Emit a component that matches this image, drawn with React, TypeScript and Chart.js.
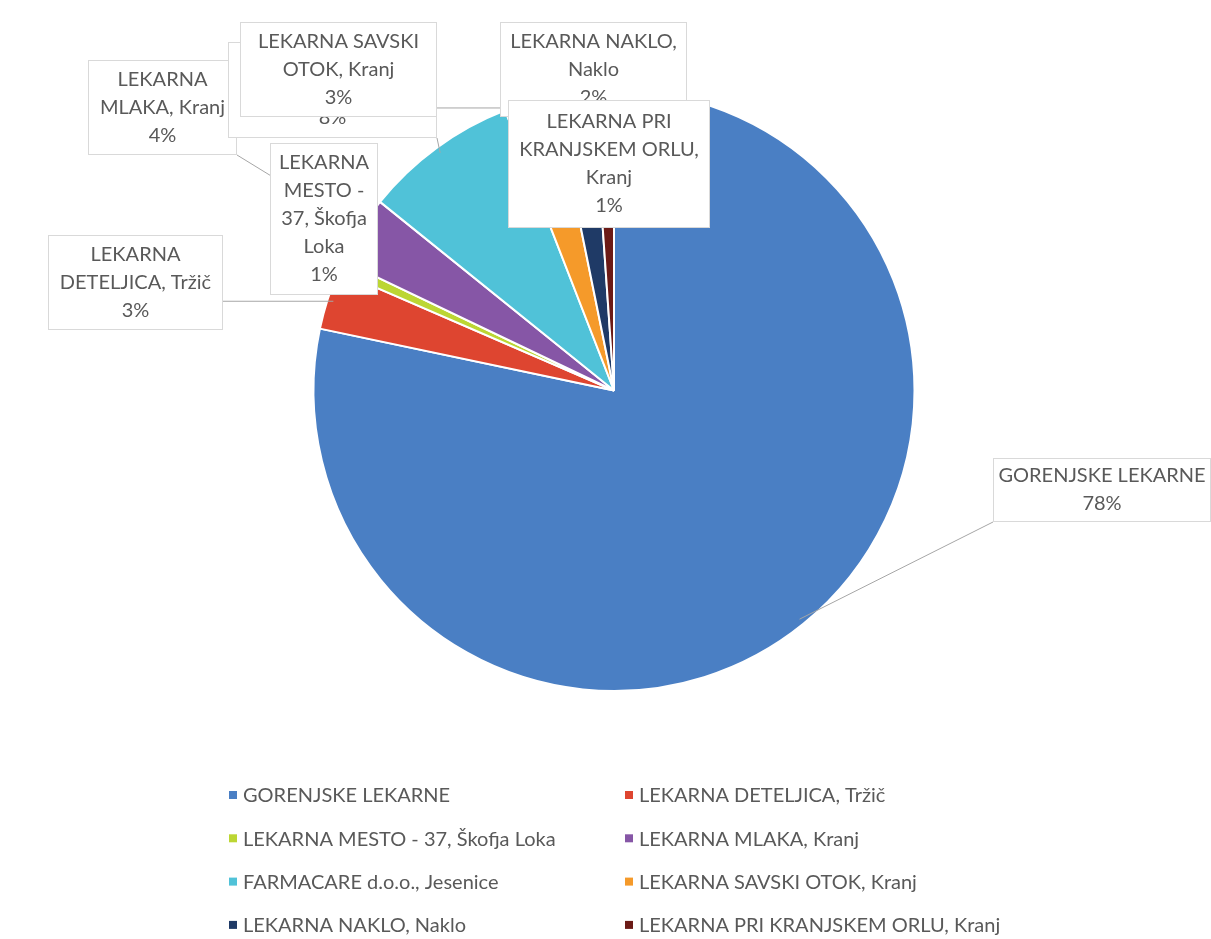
import React, { useEffect, useRef } from "react";
import { Chart, registerables } from "chart.js";

Chart.register(...registerables);

const CATEGORIES = [
  "GORENJSKE LEKARNE",
  "LEKARNA DETELJICA, Tržič",
  "LEKARNA MESTO - 37, Škofja Loka",
  "LEKARNA MLAKA, Kranj",
  "FARMACARE d.o.o., Jesenice",
  "LEKARNA SAVSKI OTOK, Kranj",
  "LEKARNA NAKLO, Naklo",
  "LEKARNA PRI KRANJSKEM ORLU, Kranj",
];

const VALUES = [78.3, 3.2, 0.6, 3.7, 8.3, 2.7, 2.1, 1.1];

const COLORS = [
  "#4a7fc4",
  "#de4530",
  "#bcd633",
  "#8656a6",
  "#50c2d8",
  "#f59a2a",
  "#1f3a66",
  "#6b1a16",
];

// Layout of callout boxes (left, top, width, height) in canvas pixels
const LABEL_BOXES = [
  { x: 993, y: 458, w: 218, h: 64 },
  { x: 48, y: 235, w: 175, h: 95 },
  { x: 270, y: 143, w: 108, h: 152 },
  { x: 88, y: 60, w: 149, h: 95 },
  { x: 228, y: 42, w: 209, h: 96 },
  { x: 240, y: 22, w: 197, h: 95 },
  { x: 500, y: 22, w: 187, h: 95 },
  { x: 508, y: 100, w: 202, h: 128 },
];

const FONT_FAMILY = "Lato, 'Open Sans', sans-serif";
const LABEL_FONT_SIZE = 20;
const LABEL_LINE_H = 28;
const TEXT_COLOR = "#595959";

const LEGEND_COL_X = [229, 625];
const LEGEND_TOP = 795;
const LEGEND_ROW_GAP = 43.3;
const LEGEND_FONT_SIZE = 20;

function wrapText(ctx: CanvasRenderingContext2D, text: string, maxW: number): string[] {
  const words = text.split(" ");
  const lines: string[] = [];
  let cur = "";
  for (const w of words) {
    const test = cur ? cur + " " + w : w;
    if (ctx.measureText(test).width <= maxW || !cur) {
      cur = test;
    } else {
      lines.push(cur);
      cur = w;
    }
  }
  if (cur) lines.push(cur);
  return lines;
}

const calloutPlugin = {
  id: "calloutLabels",
  afterDraw(chart: any) {
    const ctx: CanvasRenderingContext2D = chart.ctx;
    const meta = chart.getDatasetMeta(0);
    const data: number[] = chart.data.datasets[0].data;
    const total = data.reduce((a, b) => a + b, 0);
    ctx.save();
    // leader lines
    ctx.strokeStyle = "#a6a6a6";
    ctx.lineWidth = 1;
    meta.data.forEach((arc: any, i: number) => {
      const p = arc.getProps(["x", "y", "startAngle", "endAngle", "outerRadius"], true);
      const mid = (p.startAngle + p.endAngle) / 2;
      const px = p.x + Math.cos(mid) * p.outerRadius * 0.98;
      const py = p.y + Math.sin(mid) * p.outerRadius * 0.98;
      const b = LABEL_BOXES[i];
      if (px >= b.x && px <= b.x + b.w && py >= b.y && py <= b.y + b.h) return;
      const ax = Math.min(Math.max(px, b.x), b.x + b.w);
      const ay = Math.min(Math.max(py, b.y), b.y + b.h);
      ctx.beginPath();
      ctx.moveTo(ax, ay);
      ctx.lineTo(px, py);
      ctx.stroke();
    });
    // boxes
    ctx.font = `${LABEL_FONT_SIZE}px ${FONT_FAMILY}`;
    ctx.textAlign = "center";
    ctx.textBaseline = "middle";
    meta.data.forEach((_arc: any, i: number) => {
      const b = LABEL_BOXES[i];
      ctx.fillStyle = "#ffffff";
      ctx.fillRect(b.x, b.y, b.w, b.h);
      ctx.strokeStyle = "#d9d9d9";
      ctx.strokeRect(b.x + 0.5, b.y + 0.5, b.w - 1, b.h - 1);
      const lines = wrapText(ctx, chart.data.labels[i], b.w - 10);
      lines.push(Math.round((data[i] / total) * 100) + "%");
      const startY = b.y + b.h / 2 - ((lines.length - 1) * LABEL_LINE_H) / 2;
      ctx.fillStyle = TEXT_COLOR;
      lines.forEach((ln, k) => {
        ctx.fillText(ln, b.x + b.w / 2, startY + k * LABEL_LINE_H);
      });
    });
    // legend
    ctx.font = `${LEGEND_FONT_SIZE}px ${FONT_FAMILY}`;
    ctx.textAlign = "left";
    chart.data.labels.forEach((lab: string, i: number) => {
      const col = i % 2;
      const row = Math.floor(i / 2);
      const x = LEGEND_COL_X[col];
      const y = LEGEND_TOP + row * LEGEND_ROW_GAP;
      ctx.fillStyle = COLORS[i];
      ctx.fillRect(x, y - 4, 8, 8);
      ctx.fillStyle = TEXT_COLOR;
      ctx.fillText(lab, x + 14, y + 1);
    });
    ctx.restore();
  },
};

export default function App() {
  const ref = useRef<HTMLCanvasElement>(null);
  useEffect(() => {
    if (!ref.current) return;
    const chart = new Chart(ref.current, {
      type: "pie",
      data: {
        labels: CATEGORIES,
        datasets: [
          {
            data: VALUES,
            backgroundColor: COLORS,
            borderColor: "#ffffff",
            borderWidth: 2,
          },
        ],
      },
      options: {
        animation: false,
        responsive: false,
        layout: { padding: { top: 89, bottom: 247, left: 17, right: 0 } },
        plugins: {
          legend: { display: false },
          tooltip: { enabled: false },
        },
      },
      plugins: [calloutPlugin],
    });
    return () => chart.destroy();
  }, []);
  return (
    <div style={{ position: "absolute", left: 0, top: 0, width: 1211, height: 939, background: "#fff" }}>
      <canvas ref={ref} width={1211} height={939} style={{ width: 1211, height: 939 }} />
    </div>
  );
}
